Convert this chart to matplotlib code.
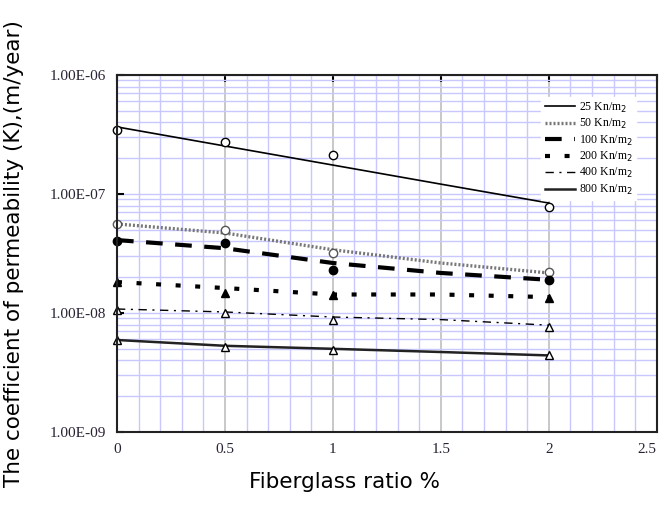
import numpy as np
import matplotlib.pyplot as plt
from matplotlib.ticker import FixedLocator, LogLocator, NullFormatter

# fiberglass ratio (%) where samples were tested
x_pts = [0, 0.5, 1, 2]
# trend line positions
x_line = [0, 0.5, 1, 1.5, 2]

labels = ['25 Kn/m$_2$', '50 Kn/m$_2$', '100 Kn/m$_2$', '200 Kn/m$_2$', '400 Kn/m$_2$', '800 Kn/m$_2$']

# measured permeability (m/year)
k_25 = [3.45e-7, 2.74e-7, 2.13e-7, 7.8e-8]
k_50 = [5.6e-8, 5.0e-8, 3.2e-8, 2.2e-8]
k_100 = [4.0e-8, 3.9e-8, 2.3e-8, 1.9e-8]
k_200 = [1.82e-8, 1.47e-8, 1.42e-8, 1.34e-8]
k_400 = [1.06e-8, 1.0e-8, 8.7e-9, 7.6e-9]
k_800 = [5.9e-9, 5.2e-9, 4.9e-9, 4.4e-9]

# trend lines
t_25 = [3.66e-7, 2.53e-7, 1.75e-7, 1.21e-7, 8.4e-8]
t_50 = [5.6e-8, 4.7e-8, 3.4e-8, 2.63e-8, 2.17e-8]
t_100 = [4.1e-8, 3.5e-8, 2.63e-8, 2.17e-8, 1.9e-8]
t_200 = [1.82e-8, 1.62e-8, 1.43e-8, 1.43e-8, 1.36e-8]
t_400 = [1.08e-8, 1.02e-8, 9.25e-9, 8.8e-9, 7.9e-9]
t_800 = [5.93e-9, 5.3e-9, 5.0e-9, 4.7e-9, 4.4e-9]

y_ticks = [1e-9, 1e-8, 1e-7, 1e-6]
y_ticklabels = ['1.00E-09', '1.00E-08', '1.00E-07', '1.00E-06']
x_ticks = [0, 0.5, 1, 1.5, 2, 2.5]
x_ticklabels = ['0', '0.5', '1', '1.5', '2', '2.5']

fig = plt.figure(figsize=(6.59, 5.09), dpi=100)
ax = fig.add_axes([0.1775, 0.1513, 0.819, 0.7014])
ax.set_yscale('log')
ax.set_xlim(0, 2.5)
ax.set_ylim(1e-9, 1e-6)

# grid: light blue every 0.1 and log minor, grey at the major x ticks
ax.xaxis.set_minor_locator(FixedLocator(np.arange(0.1, 2.5, 0.1)))
ax.yaxis.set_minor_locator(LogLocator(base=10, subs=np.arange(2, 10)))
ax.yaxis.set_minor_formatter(NullFormatter())
ax.grid(which='minor', color='#c8c8ff', lw=1.0)
ax.grid(which='major', axis='y', color='#c8c8ff', lw=1.0)
ax.grid(which='major', axis='x', color='#c4c4c4', lw=1.3)
ax.set_axisbelow(True)

styles = [
    dict(color='black', lw=1.2, ls='-'),
    dict(color='#777777', lw=2.4, ls=(0, (0.6, 0.6))),
    dict(color='black', lw=3.0, ls=(0, (4, 3))),
    dict(color='black', lw=3.0, ls=(0, (1.2, 3.5))),
    dict(color='black', lw=1.0, ls=(0, (6, 4, 1.5, 4))),
    dict(color='#222222', lw=1.8, ls='-'),
]
marks = [
    dict(marker='o', mfc='white', mec='black'),
    dict(marker='o', mfc='white', mec='#555555'),
    dict(marker='o', mfc='black', mec='black'),
    dict(marker='^', mfc='black', mec='black'),
    dict(marker='^', mfc='white', mec='black'),
    dict(marker='^', mfc='white', mec='black'),
]
trends = [t_25, t_50, t_100, t_200, t_400, t_800]
points = [k_25, k_50, k_100, k_200, k_400, k_800]

for t, p, st, mk, lab in zip(trends, points, styles, marks, labels):
    ax.plot(x_line, t, label=lab, **st)
    ax.plot(x_pts, p, ls='none', ms=6, mew=1.0, clip_on=False, **mk)

ax.set_xticks(x_ticks)
ax.set_xticklabels(x_ticklabels, family='Liberation Serif', fontsize=11, color='#2a2233')
ax.get_xticklabels()[-1].set_ha('right')
ax.set_yticks(y_ticks)
ax.set_yticklabels(y_ticklabels, family='Liberation Serif', fontsize=11, color='#2a2233')
ax.tick_params(which='minor', length=0)
ax.tick_params(which='major', direction='in', length=5, width=1.5,
               top=True, bottom=False, left=True, right=False)
ax.tick_params(axis='x', pad=8)
ax.tick_params(axis='y', pad=8)
for s in ax.spines.values():
    s.set_linewidth(1.5)
    s.set_color('#222222')

ax.set_xlabel('Fiberglass ratio %', family='DejaVu Sans', fontsize=15.5)
ax.xaxis.set_label_coords(0.421, -0.112)
ax.set_ylabel('The coefficient of permeability (K),(m/year)', family='DejaVu Sans', fontsize=15.5)
ax.yaxis.set_label_coords(-0.172, 0.499)

leg = ax.legend(loc='upper left', bbox_to_anchor=(0.775, 0.955), frameon=True, fancybox=False,
                edgecolor='white', framealpha=1, prop={'family': 'Liberation Serif', 'size': 8.5},
                handlelength=2.6, labelspacing=0.2, borderpad=0.3, handletextpad=0.3)

fig.savefig('out.png', dpi=100)
